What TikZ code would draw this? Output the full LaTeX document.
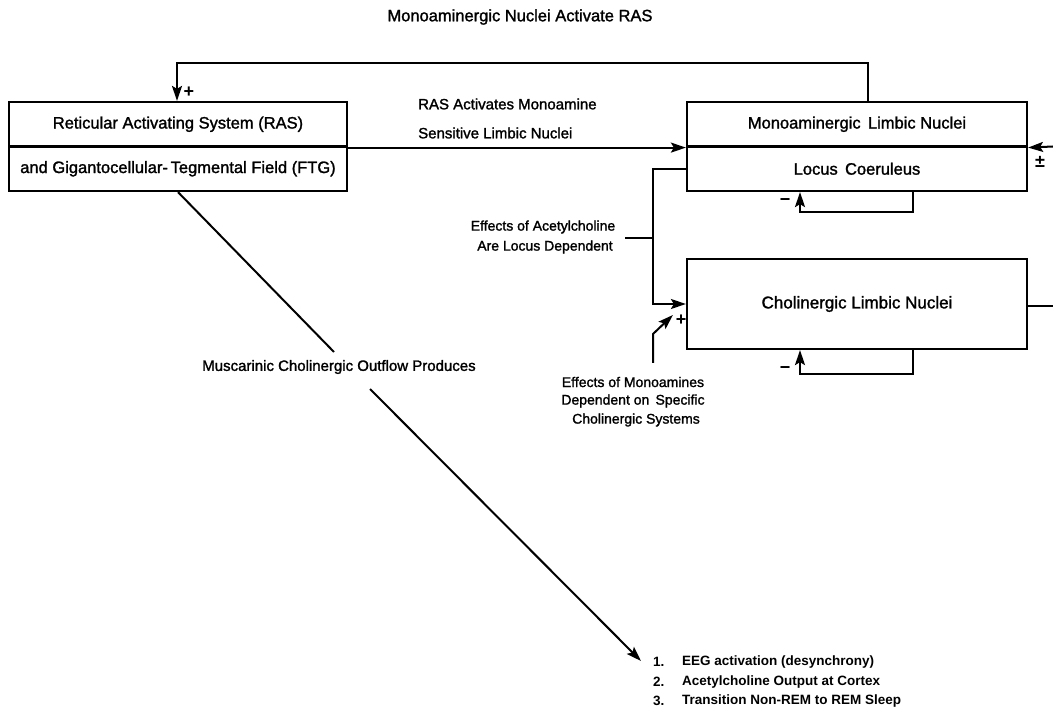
\documentclass[tikz,border=0pt]{standalone}
\usepackage{fontspec}
\setmainfont{Liberation Sans}
\newfontfamily\medfont{Liberation Sans}[FakeBold=1.5]
\usetikzlibrary{arrows.meta}
\begin{document}
\begin{tikzpicture}[x=1pt,y=-1pt,
  box/.style={draw,line width=2.2pt,rectangle,inner sep=0pt,minimum width=338pt,minimum height=44.5pt,font=\medfont\fontsize{16.5}{19}\selectfont},
  conn/.style={line width=2pt},
  arr/.style={conn,-{Stealth[length=15pt,width=10pt,inset=3pt]}},
  lbl/.style={inner sep=0pt,font=\medfont\fontsize{15}{18}\selectfont},
  slbl/.style={lbl,font=\medfont\fontsize{14}{17}\selectfont},
  lstx/.style={inner sep=0pt,anchor=west,font=\bfseries\fontsize{13.5}{16}\selectfont},
  sgn/.style={inner sep=0pt,font=\bfseries\fontsize{18}{20}\selectfont}]
\useasboundingbox (0,0) rectangle (1053,708);
% boxes
\node[box] (ras1) at (178,124.25) {Reticular Activating System (RAS)};
\node[box] (ras2) at (178,168.75) {and Gigantocellular-\,Tegmental Field (FTG)};
\node[box,minimum width=340pt] (mono1) at (857,124.25) {Monoaminergic\, Limbic Nuclei};
\node[box,minimum width=340pt] (lc) at (857,168.75) {Locus\, Coeruleus};
\node[box,minimum width=340pt,minimum height=90pt,font=\medfont\fontsize{17}{20}\selectfont] (chol) at (857,304) {Cholinergic Limbic Nuclei};
% helper coordinates
\coordinate (t0) at (177,63);
\coordinate (t1) at (868,63);
\coordinate (rin) at (1053,146.5);
\coordinate (rout) at (1053,306);
\coordinate (lpR) at (913,0);
\coordinate (lpL) at (800,0);
\coordinate (vx) at (653,304);
\coordinate (bl) at (625,238);
\coordinate (m0) at (653,363);
\coordinate (m1) at (653,334);
\coordinate (d0) at (178,0);
\coordinate (d1) at (334,352);
\coordinate (d2) at (370,389);
\coordinate (dtip) at (641,661);
% texts
\node[lbl,font=\medfont\fontsize{16.5}{19}\selectfont] (title) at (520,17) {Monoaminergic Nuclei Activate RAS};
\node[lbl,anchor=west] (la1) at (418,104) {RAS Activates Monoamine};
\node[lbl,anchor=west] (la2) at (418,133) {Sensitive Limbic Nuclei};
\node[slbl] (ea1) at (543,227) {Effects of Acetylcholine};
\node[slbl] (ea2) at (545,247) {Are Locus Dependent};
\node[slbl] (em1) at (633,382) {Effects of Monoamines};
\node[slbl] (em2) at (633,401) {Dependent on\, Specific};
\node[slbl] (em3) at (636,420) {Cholinergic Systems};
\node[lbl] (mus) at (339,367) {Muscarinic Cholinergic Outflow Produces};
\node[lstx] (n1) at (653,662) {1.};
\node[lstx] (n2) at (653,682) {2.};
\node[lstx] (n3) at (653,701) {3.};
\node[lstx] (l1) at (682,662) {EEG activation (desynchrony)};
\node[lstx] (l2) at (682,682) {Acetylcholine Output at Cortex};
\node[lstx] (l3) at (682,701) {Transition Non-REM to REM Sleep};
% signs
\node[sgn] (p1) at (189,92) {+};
\node[sgn] (p2) at (681,320) {+};
\node[sgn] (pm) at (1040,162) {±};
\node[sgn] (mn1) at (785,202) {−};
\node[sgn] (mn2) at (785,370) {−};
% connectors
\draw[arr] (mono1.north -| t1) -- (t1) -- (t0) -- (ras1.north -| t0);
\draw[arr] (ras1.south east) -- (mono1.south west);
\draw[arr] (rin) -- (mono1.south east);
\draw[arr] (lc.south -| lpR) -- ++(0,20) -| (lc.south -| lpL);
\draw[arr] (lc.west) -| (vx) -- (chol.west);
\draw[conn] (bl) -- (bl -| vx);
\draw[arr] (m0) -- (m1) -- ([shift={(-13pt,-11pt)}]chol.west);
\draw[conn] (chol.east |- rout) -- (rout);
\draw[arr] (chol.south -| lpR) -- ++(0,24) -| (chol.south -| lpL);
\draw[conn] (ras2.south -| d0) -- (d1);
\draw[arr] (d2) -- (dtip);
\end{tikzpicture}
\end{document}
